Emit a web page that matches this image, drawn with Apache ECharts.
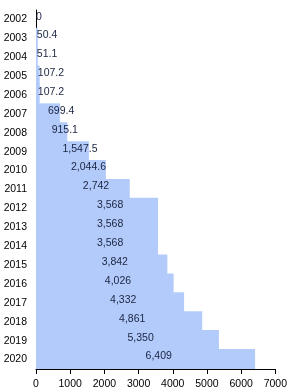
<!DOCTYPE html>
<html><head><meta charset="utf-8">
<script src="https://cdn.jsdelivr.net/npm/echarts@6/dist/echarts.min.js"></script>
<style>html,body{margin:0;padding:0;background:#fff}#c{width:290px;height:390px}</style>
</head><body><div id="c"></div>
<script>
const years = ['2002','2003','2004','2005','2006','2007','2008','2009','2010','2011','2012','2013','2014','2015','2016','2017','2018','2019','2020'];
const values = [0, 50.4, 51.1, 107.2, 107.2, 699.4, 915.1, 1547.5, 2044.6, 2742, 3568, 3568, 3568, 3842, 4026, 4332, 4861, 5350, 6409];
const xTicks = [0, 1000, 2000, 3000, 4000, 5000, 6000, 7000];

const chart = echarts.init(document.getElementById('c'), null, {renderer: 'canvas'});
const fmt = v => v.toLocaleString('en-US', {maximumFractionDigits: 1});
chart.setOption({
  animation: false,
  grid: {left: 36, right: 10, top: 10, bottom: 20},
  xAxis: {
    type: 'value', min: xTicks[0], max: xTicks[xTicks.length - 1], interval: 1000,
    axisLine: {show: true, lineStyle: {color: '#000', width: 1}},
    axisTick: {show: true, length: 5, lineStyle: {color: '#000'}},
    splitLine: {show: false},
    axisLabel: {color: '#000', fontSize: 10.5, fontFamily: 'Liberation Sans, Arial, sans-serif', margin: 10,
      formatter: v => String(v)}
  },
  yAxis: {
    type: 'category', data: years, inverse: true,
    axisLine: {show: true, lineStyle: {color: '#000', width: 1}},
    axisTick: {show: false},
    axisLabel: {color: '#000', fontSize: 10.5, fontFamily: 'Liberation Sans, Arial, sans-serif', margin: 9}
  },
  series: [{
    type: 'bar', data: values, barWidth: '112%', z: 1,
    itemStyle: {color: '#b3cbfb'},
    label: {
      show: true, position: ['50%', '50%'], align: 'left', verticalAlign: 'middle',
      offset: [0, -3], color: '#1a2440', fontSize: 10.5,
      fontFamily: 'Liberation Sans, Arial, sans-serif',
      formatter: p => fmt(p.value)
    }
  }]
});
</script></body></html>
